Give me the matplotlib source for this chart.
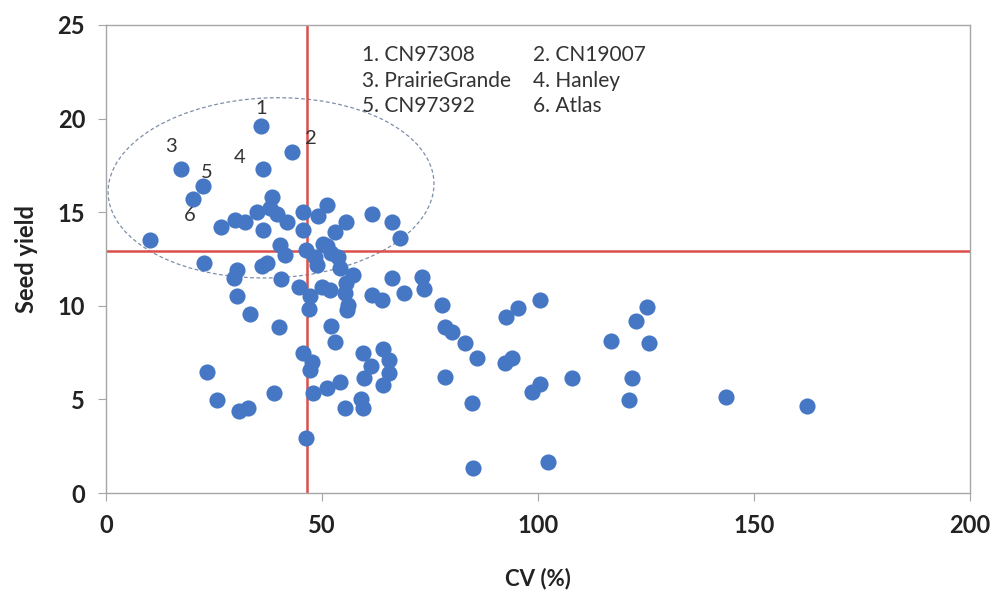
import matplotlib
matplotlib.use('Agg')
import matplotlib.pyplot as plt
from matplotlib.patches import Ellipse
from matplotlib.transforms import Affine2D

plt.rcParams['font.family'] = ['Lato', 'DejaVu Sans']

# CV (%) and seed yield
cv = [35.8, 43.1, 17.3, 36.3, 22.4, 20.2, 10.3,
      26.7, 29.9, 32.2, 34.9, 36.4, 38.4, 38.0, 39.5, 41.8, 45.5, 45.5, 49.0, 51.1,
      53.0, 55.5, 61.5, 66.1, 68.1, 50.3,
      40.3, 41.4, 46.3, 48.4, 48.8, 51.1, 52.0, 53.6, 54.2, 22.7, 30.3, 29.6, 36.0, 37.2,
      57.2, 40.5, 44.7, 49.9, 51.9, 55.5, 66.1, 73.1, 73.5,
      47.2, 55.3, 56.1, 61.5, 63.9, 69.0, 30.3, 47.0, 55.7, 77.7,
      33.3, 40.0, 52.0, 53.0, 78.5, 80.0, 83.1, 85.8, 45.7, 47.6, 47.2, 59.4, 61.3,
      59.8, 64.2, 65.4, 65.4, 64.2, 78.5, 23.3, 48.0, 51.1, 54.2, 38.9, 25.6, 30.8,
      32.9, 55.3, 59.0, 59.6, 46.4, 84.7, 85.0, 102.4, 92.7, 95.4, 100.5, 92.4, 93.9,
      98.5, 100.5, 107.8, 116.8, 122.7, 125.2, 125.7, 121.8, 121.0, 143.4, 162.3]
seed_yield = [19.6, 18.2, 17.3, 17.3, 16.4, 15.7, 13.5,
              14.2, 14.6, 14.5, 15.0, 14.05, 15.8, 15.2, 14.9, 14.5, 15.0, 14.05, 14.8, 15.4,
              13.96, 14.5, 14.9, 14.5, 13.6, 13.3,
              13.25, 12.7, 13.0, 12.6, 12.2, 13.2, 12.8, 12.6, 12.0, 12.3, 11.9, 11.5, 12.1, 12.3,
              11.65, 11.45, 11.0, 11.0, 10.84, 11.2, 11.5, 11.55, 10.9,
              10.5, 10.67, 10.04, 10.6, 10.3, 10.7, 10.55, 9.85, 9.8, 10.04,
              9.55, 8.85, 8.9, 8.08, 8.88, 8.62, 8.0, 7.2, 7.46, 7.0, 6.57, 7.46, 6.8,
              6.13, 7.7, 7.1, 6.4, 5.77, 6.2, 6.48, 5.33, 5.6, 5.95, 5.36, 4.97, 4.4,
              4.52, 4.52, 5.0, 4.52, 2.92, 4.8, 1.32, 1.67, 9.42, 9.86, 10.3, 6.93, 7.2,
              5.41, 5.82, 6.13, 8.1, 9.2, 9.92, 8.0, 6.13, 4.97, 5.11, 4.65]

# numbered genotypes
label_text = ['1', '2', '3', '4', '5', '6']
label_x = [35.9, 47.4, 15.0, 30.9, 23.3, 19.3]
label_y = [20.55, 18.95, 18.5, 17.9, 17.1, 14.85]

key_lines = ['1. CN97308', '3. PrairieGrande', '5. CN97392']
key_lines2 = ['2. CN19007', '4. Hanley', '6. Atlas']

cv_cut = 46.5
yield_cut = 12.95

fig = plt.figure(figsize=(9.98, 5.92), dpi=100)
ax = fig.add_axes([0.1062, 0.1672, 0.8658, 0.7906])

ax.scatter(cv, seed_yield, s=135, color='#4677c4', linewidths=0, zorder=3)

ax.axvline(cv_cut, color='#dc4f4b', lw=1.8, zorder=2)
ax.axhline(yield_cut, color='#dc4f4b', lw=1.8, zorder=2)

# dashed, slightly tilted ellipse round the high-yield group
# (drawn in screen-like units so the tilt is not sheared by the axis scales)
sx, sy = 200 / 864, 25 / 468
ell_tr = Affine2D().scale(sx, sy) + ax.transData
ax.add_patch(Ellipse((38.2 / sx, 16.3 / sy), 326, 180, angle=2, fill=False,
                     ls=(0, (3, 2)), ec='#7d8ea8', lw=0.9, zorder=1, transform=ell_tr))

for t, lx, ly in zip(label_text, label_x, label_y):
    ax.text(lx, ly, t, fontsize=14.5, color='#333333', ha='center', va='center')

key_y = [0.936, 0.88, 0.826]
for a, b, yy in zip(key_lines, key_lines2, key_y):
    ax.text(0.296, yy, a, transform=ax.transAxes, fontsize=15, color='#333333', va='center')
    ax.text(0.494, yy, b, transform=ax.transAxes, fontsize=15, color='#333333', va='center')

ax.set_xlim(0, 200)
ax.set_ylim(0, 25)
ax.set_xticks([0, 50, 100, 150, 200])
ax.set_yticks([0, 5, 10, 15, 20, 25])
for sp in ax.spines.values():
    sp.set_color('#a6a6a6')
    sp.set_linewidth(1.0)
ax.tick_params(direction='out', length=6, color='#a6a6a6', labelsize=17, pad=9)
for lbl in ax.get_xticklabels() + ax.get_yticklabels():
    lbl.set_fontweight('bold')
    lbl.set_color('#222222')

ax.set_xlabel('CV (%)', fontsize=16, fontweight='bold', color='#222222', labelpad=22)
ax.set_ylabel('Seed yield', fontsize=17, fontweight='bold', color='#222222', labelpad=14)

fig.savefig('out.png', dpi=100, facecolor='white')
